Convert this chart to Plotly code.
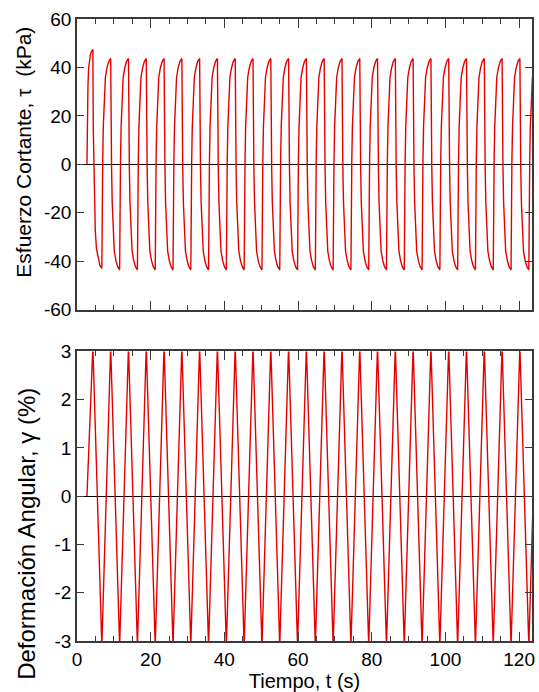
import plotly.graph_objects as go

# ---------------- data ----------------
start_t = 2.70                      # start of loading (s)
# times of the stress / strain reversals (s)
pos_peak_t = [4.31, 9.14, 13.97, 18.80, 23.63, 28.46, 33.28, 38.11, 42.94,
              47.77, 52.60, 57.43, 62.26, 67.09, 71.92, 76.75, 81.57, 86.40,
              91.23, 96.06, 100.89, 105.72, 110.55, 115.38, 120.21, 125.04]
neg_peak_t = [6.74, 11.57, 16.40, 21.23, 26.06, 30.89, 35.71, 40.54, 45.37,
              50.20, 55.03, 59.86, 64.69, 69.52, 74.35, 79.18, 84.00, 88.83,
              93.66, 98.49, 103.32, 108.15, 112.98, 117.81, 122.64]
# shear stress at the reversals (kPa)
stress_pos_peaks = [47.4, 43.7, 43.7, 43.7, 43.7, 43.7, 43.7, 43.7, 43.7,
                    43.7, 43.7, 43.7, 43.7, 43.7, 43.7, 43.7, 43.7, 43.7,
                    43.7, 43.7, 43.7, 43.7, 43.7, 43.7, 43.7, 43.7]
stress_neg_peaks = [-43.0, -43.6, -43.6, -43.6, -43.6, -43.6, -43.6, -43.6,
                    -43.6, -43.6, -43.6, -43.6, -43.6, -43.6, -43.6, -43.6,
                    -43.6, -43.6, -43.6, -43.6, -43.6, -43.6, -43.6, -43.6,
                    -43.6]
# shear strain at the reversals (%)
strain_pos_peaks = [3.1] * 26
strain_neg_peaks = [-3.1] * 25
# shape of one stress branch between two reversals (fraction of branch time,
# fraction of the stress change)
branch_frac = [0.0, 0.04, 0.10, 0.17, 0.27, 0.40, 0.58, 0.78, 1.0]
branch_change = [0.0, 0.35, 0.52, 0.68, 0.83, 0.91, 0.955, 0.985, 1.0]

x_ticks = [0, 20, 40, 60, 80, 100, 120]
x_tick_text = ["0", "20", "40", "60", "80", "100", "120"]
stress_ticks = [-60, -40, -20, 0, 20, 40, 60]
stress_tick_text = ["-60", "-40", "-20", "0", "20", "40", "60"]
strain_ticks = [-3, -2, -1, 0, 1, 2, 3]
strain_tick_text = ["-3", "-2", "-1", "0", "1", "2", "3"]

# ---------------- build the series ----------------
rev_t = [start_t]
rev_stress = [0.0]
rev_strain = [0.0]
for i in range(len(pos_peak_t)):
    rev_t.append(pos_peak_t[i]); rev_stress.append(stress_pos_peaks[i]); rev_strain.append(strain_pos_peaks[i])
    if i < len(neg_peak_t):
        rev_t.append(neg_peak_t[i]); rev_stress.append(stress_neg_peaks[i]); rev_strain.append(strain_neg_peaks[i])

st_t, st_v = [], []
for i in range(len(rev_t) - 1):
    t0, t1 = rev_t[i], rev_t[i + 1]
    v0, v1 = rev_stress[i], rev_stress[i + 1]
    for f, g in zip(branch_frac[:-1], branch_change[:-1]):
        st_t.append(t0 + (t1 - t0) * f)
        st_v.append(v0 + (v1 - v0) * g)
st_t.append(rev_t[-1]); st_v.append(rev_stress[-1])

# ---------------- figure ----------------
W, H = 539, 692
L, R, T, B = 77, 4, 19, 48
pw, ph = W - L - R, H - T - B

def px_x(px):
    return (px - L) / pw

def px_y(py):
    return (H - B - py) / ph

red = "rgb(228,0,0)"
axc = "#3a3a3a"
font = "Liberation Sans, Arial, sans-serif"

fig = go.Figure()
fig.add_trace(go.Scatter(x=st_t, y=st_v, mode="lines", xaxis="x", yaxis="y",
                         line=dict(color=red, width=1.4), showlegend=False))
fig.add_trace(go.Scatter(x=rev_t, y=rev_strain, mode="lines", xaxis="x2", yaxis="y2",
                         line=dict(color=red, width=1.4), showlegend=False))

xcommon = dict(range=[0, 123.5], tickvals=x_ticks, ticktext=x_tick_text,
               ticks="inside", ticklen=9,
               tickwidth=1, tickcolor=axc, showline=True, linecolor=axc,
               linewidth=1.5, mirror="ticks", showgrid=False, zeroline=False,
               minor=dict(dtick=5, tick0=0, ticks="inside", ticklen=5,
                          tickcolor=axc, tickwidth=1, showgrid=False),
               tickfont=dict(family=font, size=19, color="black"))
ycommon = dict(ticks="inside", ticklen=7, tickwidth=1, tickcolor=axc,
               showline=True, linecolor=axc, linewidth=1.5, mirror="ticks",
               showgrid=False, zeroline=True, zerolinecolor="black",
               zerolinewidth=1, tickfont=dict(family=font, size=19, color="black"))

fig.update_layout(
    width=W, height=H, autosize=False,
    margin=dict(l=L, r=R, t=T, b=B),
    paper_bgcolor="white", plot_bgcolor="white",
    xaxis=dict(**xcommon, anchor="y", domain=[0, 1], showticklabels=False),
    xaxis2=dict(**xcommon, anchor="y2", domain=[0, 1], matches="x",
                showticklabels=True,
                title=dict(text="Tiempo, t (s)", standoff=4,
                           font=dict(family=font, size=20, color="black"))),
    yaxis=dict(**ycommon, anchor="x", domain=[px_y(311), 1], range=[-60, 60],
               tickvals=stress_ticks, ticktext=stress_tick_text),
    yaxis2=dict(**ycommon, anchor="x2", domain=[0, px_y(353)], range=[-3, 3],
                tickvals=strain_ticks, ticktext=strain_tick_text),
    annotations=[
        dict(text="Esfuerzo Cortante, τ  (kPa)", textangle=-90, showarrow=False,
             xref="paper", yref="paper", x=px_x(23), y=px_y(153),
             xanchor="center", yanchor="middle",
             font=dict(family=font, size=21, color="black")),
        dict(text="Deformación Angular, γ (%)", textangle=-90, showarrow=False,
             xref="paper", yref="paper", x=px_x(26), y=px_y(536),
             xanchor="center", yanchor="middle",
             font=dict(family=font, size=24, color="black")),
    ],
)

fig.write_html("out.html")
